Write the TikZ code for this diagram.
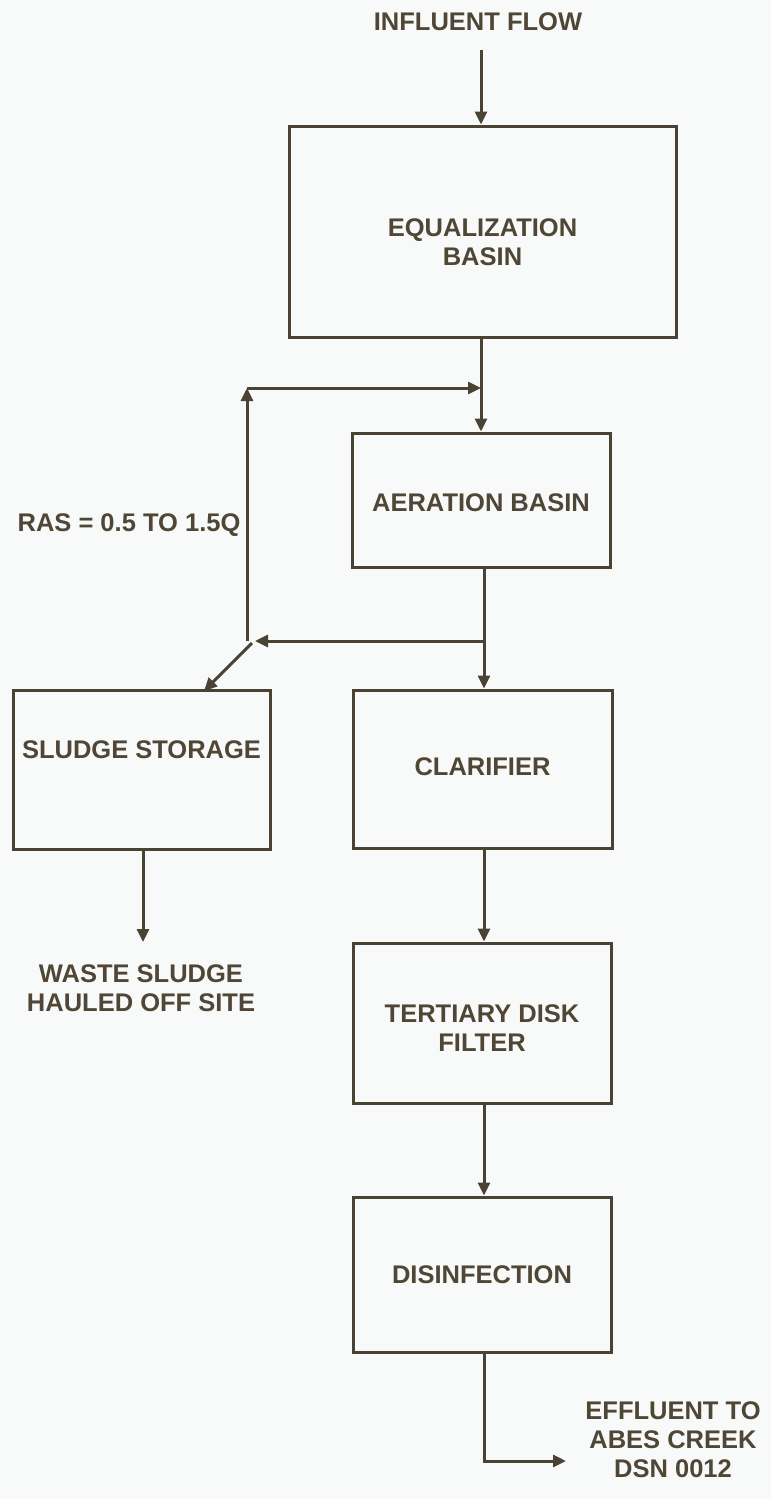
\documentclass[tikz,border=0pt]{standalone}
\usepackage{fontspec}
\setmainfont{Liberation Sans}
\usetikzlibrary{arrows.meta}
\definecolor{ink}{HTML}{4A4232}
\definecolor{txt}{HTML}{4F4636}
\definecolor{paper}{HTML}{F8FAFA}
\begin{document}
\begin{tikzpicture}[x=1pt,y=-1pt,
  box/.style={draw=ink,line width=3pt,fill=none,inner sep=0pt},
  lbl/.style={inner sep=0pt,align=center,text=txt,font=\fontsize{25.5}{29}\selectfont\bfseries},
  arr/.style={draw=ink,line width=3pt,-{Triangle[length=13pt,width=12pt]}},
  ln/.style={draw=ink,line width=3pt}]
\fill[paper] (0,0) rectangle (771,1499);
\useasboundingbox (0,0) rectangle (771,1499);
\node[lbl] (inf) at (478,22) {INFLUENT FLOW};
\node[box,minimum width=387pt,minimum height=211pt,label={[lbl,yshift=-11pt]center:EQUALIZATION\\BASIN}] (eq) at (482.5,231.5) {};
\node[box,minimum width=258pt,minimum height=134pt,label={[lbl,yshift=-3pt]center:AERATION BASIN}] (aer) at (481,500) {};
\node[box,minimum width=257pt,minimum height=159pt,label={[lbl,yshift=20pt]center:SLUDGE STORAGE}] (sl) at (141.5,769.5) {};
\node[box,minimum width=259pt,minimum height=158pt,label={[lbl,yshift=2pt]center:CLARIFIER}] (cl) at (482.5,769) {};
\node[box,minimum width=258pt,minimum height=160pt,label={[lbl,yshift=-5pt]center:TERTIARY DISK\\FILTER}] (te) at (482,1023) {};
\node[box,minimum width=258pt,minimum height=155pt,label={[lbl]center:DISINFECTION}] (di) at (482,1274.5) {};
\node[lbl] (ras) at (129,525) {RAS = 0.5 TO 1.5Q};
\node[lbl] (ws) at (141,988) {WASTE SLUDGE\\HAULED OFF SITE};
\node[lbl] (ef) at (673,1440) {EFFLUENT TO\\ABES CREEK\\DSN 0012};
\coordinate (i0) at (481,50);
\coordinate (j1) at (481,388);
\coordinate (j2) at (484,641);
\coordinate (r1) at (247,388);
\coordinate (r2) at (247,641);
\coordinate (d0) at (252,643);
\coordinate (d1) at (204,691);
\coordinate (w0) at (143,849);
\coordinate (w1) at (143,942);
\coordinate (e0) at (484,1461);
\coordinate (e1) at (566,1461);
\draw[arr] (i0) -- (i0 |- eq.north);
\draw[arr] (j1 |- eq.south) -- (j1 |- aer.north);
\draw[arr] (r1) -- (j1);
\draw[arr] (r2) -- (r1);
\draw[arr] (j2) -- (255,641);
\draw[arr] (d0) -- (d1);
\draw[arr] (j2 |- aer.south) -- (j2 |- cl.north);
\draw[arr] (w0) -- (w1);
\draw[arr] (j2 |- cl.south) -- (j2 |- te.north);
\draw[arr] (j2 |- te.south) -- (j2 |- di.north);
\draw[arr] (j2 |- di.south) -- (e0) -- (e1);
\end{tikzpicture}
\end{document}
